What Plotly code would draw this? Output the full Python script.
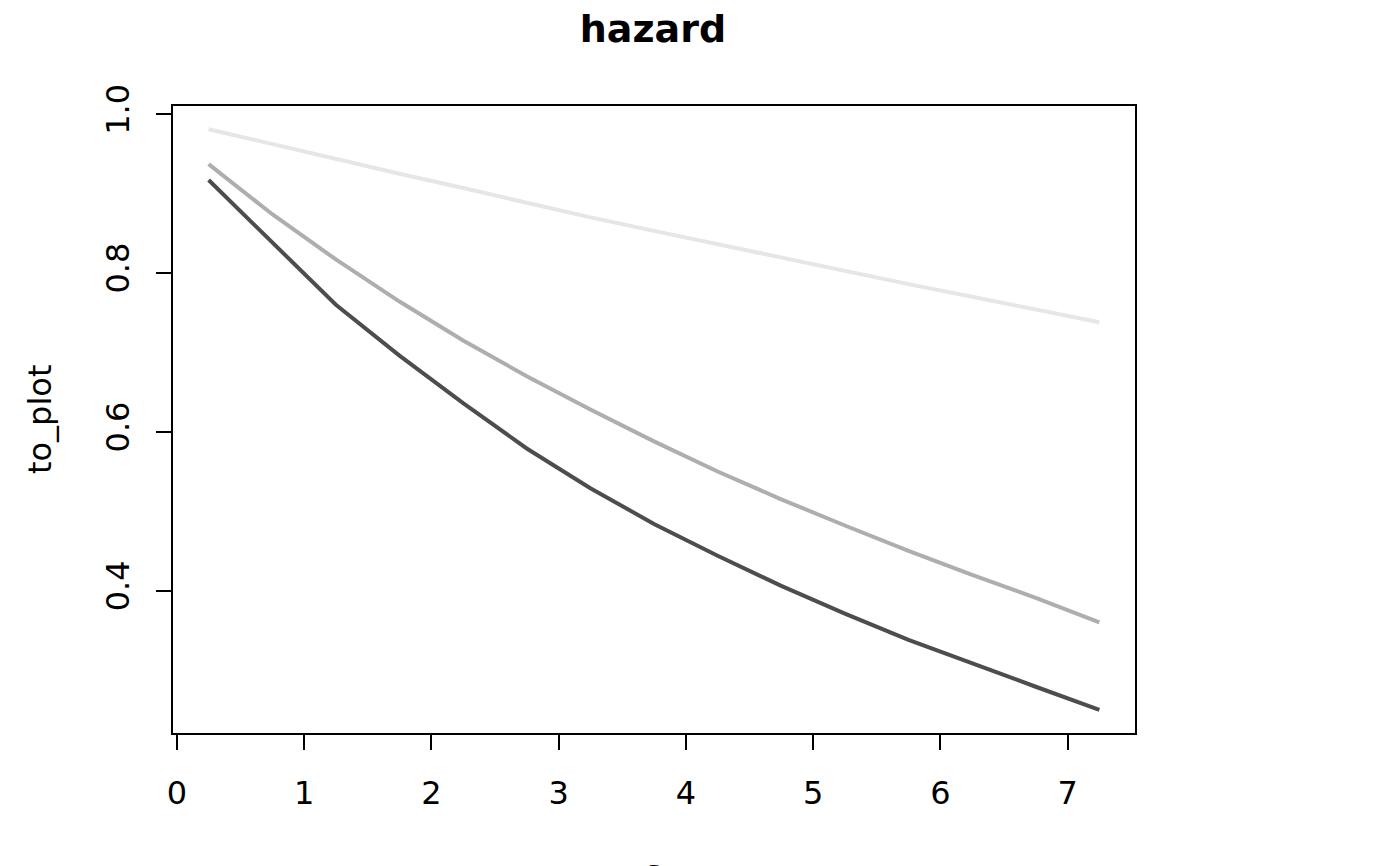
import plotly.graph_objects as go

s = [0.25, 0.75, 1.25, 1.75, 2.25, 2.75, 3.25, 3.75, 4.25, 4.75, 5.25, 5.75, 6.25, 6.75, 7.25]
series_dark = [0.917, 0.839, 0.760, 0.696, 0.636, 0.579, 0.529, 0.484, 0.444, 0.406, 0.371, 0.338, 0.308, 0.279, 0.250]
series_mid = [0.937, 0.874, 0.817, 0.764, 0.715, 0.670, 0.628, 0.588, 0.550, 0.515, 0.482, 0.450, 0.420, 0.391, 0.360]
series_light = [0.981, 0.962, 0.944, 0.925, 0.907, 0.888, 0.870, 0.853, 0.836, 0.819, 0.802, 0.786, 0.770, 0.754, 0.738]
x_ticks = [0, 1, 2, 3, 4, 5, 6, 7]
y_ticks = [0.4, 0.6, 0.8, 1.0]
y_tick_labels = ["0.4", "0.6", "0.8", "1.0"]

FONT = "DejaVu Sans"
W, H = 1392, 858
OFF = 8  # page body margin
fig = go.Figure()
for vals, col in [(series_dark, "#4D4D4D"), (series_mid, "#AEAEAE"), (series_light, "#E6E6E6")]:
    fig.add_trace(go.Scatter(x=s, y=vals, mode="lines", line=dict(color=col, width=4), showlegend=False))

allv = series_dark + series_mid + series_light
ymin, ymax = min(allv), max(allv)
ypad = 0.04 * (ymax - ymin)
xpad = 0.04 * (max(s) - min(s))

fig.update_layout(
    width=W, height=H,
    margin=dict(l=173 - OFF, r=W - (1135 - OFF), t=106 - OFF, b=H - (733 - OFF)),
    paper_bgcolor="white", plot_bgcolor="white",
    font=dict(family=FONT, size=32, color="black"),
    title=dict(text="<b>hazard</b>", x=(653 - OFF) / W, xanchor="center", y=1 - (29 - OFF) / H, yanchor="middle",
               font=dict(family=FONT, size=38, color="black")),
    xaxis=dict(range=[min(s) - xpad, max(s) + xpad], tickvals=x_ticks, ticktext=[str(v) for v in x_ticks],
               ticks="outside", ticklen=15, tickwidth=2, tickcolor="black",
               showline=True, mirror=True, linecolor="black", linewidth=2,
               showgrid=False, zeroline=False, ticklabelstandoff=16),
    yaxis=dict(range=[ymin - ypad, ymax + ypad], tickvals=y_ticks, ticktext=y_tick_labels,
               ticks="outside", ticklen=15, tickwidth=2, tickcolor="black", tickangle=-90,
               showline=True, mirror=True, linecolor="black", linewidth=2,
               showgrid=False, zeroline=False, ticklabelstandoff=14),
)
fig.add_annotation(text="to_plot", textangle=-90, xref="paper", yref="paper",
                   x=(40 - 173) / 962, y=(733 - 420) / 627, xanchor="center", yanchor="middle",
                   showarrow=False, font=dict(family=FONT, size=32, color="black"))
fig.add_annotation(text="s", xref="paper", yref="paper",
                   x=(653 - 173) / 962, y=(733 - 872) / 627, xanchor="center", yanchor="middle",
                   showarrow=False, font=dict(family=FONT, size=32, color="black"))
fig.write_html("out.html")
